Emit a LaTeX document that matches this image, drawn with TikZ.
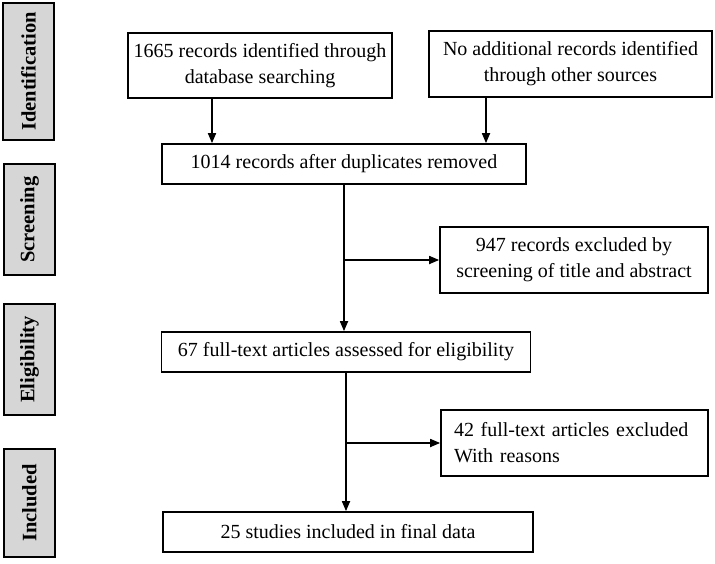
\documentclass[tikz,border=0pt]{standalone}
\usepackage{fontspec}
\setmainfont{Liberation Serif}
\usepackage{xcolor}
\usepackage{tikz}
\usetikzlibrary{positioning,calc,arrows.meta}
\definecolor{stagegray}{RGB}{214,214,214}
\tikzset{
  box/.style={draw, line width=1.7pt, align=center, inner sep=0pt, font=\fontsize{20}{26}\selectfont},
  stage/.style={draw, line width=2pt, fill=stagegray, rotate=90, inner sep=0pt, minimum height=51pt, font=\bfseries\fontsize{20.5}{24}\selectfont},
  arr/.style={line width=1.7pt, -{Triangle[length=10pt,width=8pt]}}
}

\begin{document}
\begin{tikzpicture}[x=1pt,y=-1pt]
    \useasboundingbox (0,0) rectangle (715,563);

    % Stages
    \node[stage, minimum width=137pt] (ident) at (28.5,71.5) {Identification};
    \node[stage, minimum width=111pt] (screen) at (29.5,219.5) {Screening};
    \node[stage, minimum width=111pt] (elig) at (29.5,359.5) {Eligibility};
    \node[stage, minimum width=108pt] (incl) at (29.5,503) {Included};

    % Boxes
    \node[box, minimum width=264pt, minimum height=65pt] (found) at (260,65.5) {1665 records identified through\\database searching};
    \node[box, minimum width=283pt, minimum height=66pt] (other) at (570.5,64) {No additional records identified\\through other sources};
    \node[box, minimum width=364pt, minimum height=40pt] (dup) at (344,164) {1014 records after duplicates removed};
    \node[box, minimum width=268pt, minimum height=66pt] (excl1) at (574,260) {947 records excluded by\\screening of title and abstract};
    \node[box, minimum width=369pt, minimum height=40pt] (full) at (346,352) {67 full-text articles assessed for eligibility};
    \node[box, align=left, text width=241pt, inner xsep=13pt, minimum height=66pt] (excl2) at (574.5,443) {42 full-text articles excluded\\With reasons};
    \node[box, minimum width=370pt, minimum height=40pt] (final) at (348,532) {25 studies included in final data};

    % Arrows
    \draw[arr] ([xshift=-48pt]found.south) -- ([xshift=-48pt]found.south |- dup.north);
    \draw[arr] ([xshift=-84.5pt]other.south) -- ([xshift=-84.5pt]other.south |- dup.north);
    \draw[arr] (dup.south) -- (dup.south |- full.north);
    \draw[arr] (dup.south |- excl1.west) -- (excl1.west);
    \draw[arr] (full.south) -- (full.south |- final.north);
    \draw[arr] (full.south |- excl2.west) -- (excl2.west);
\end{tikzpicture}
\end{document}
